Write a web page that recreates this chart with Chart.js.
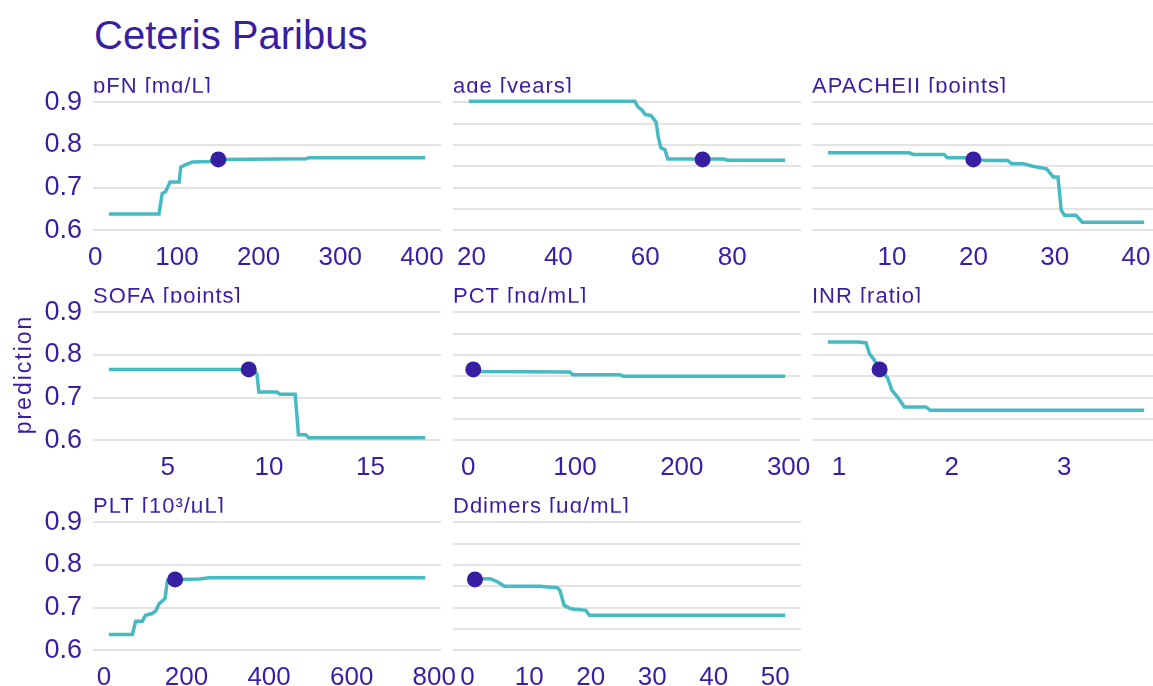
<!DOCTYPE html>
<html>
<head>
<meta charset="utf-8">
<script src="https://cdn.jsdelivr.net/npm/chart.js@4/dist/chart.umd.min.js"></script>
<style>
  html, body { margin: 0; padding: 0; background: #fff; overflow: hidden; width: 1153px; height: 686px; }
  #title { position: absolute; left: 94px; top: 15px; font: 40px 'Liberation Sans', Arial, sans-serif; line-height: 1; color: #371ea3; white-space: nowrap; }
  canvas { position: absolute; }
</style>
</head>
<body>
<div id="title">Ceteris Paribus</div>
<script>
"use strict";

// 1: data
const panelTitles = ['pFN [mg/L]', 'age [years]', 'APACHEII [points]', 'SOFA [points]',
  'PCT [ng/mL]', 'INR [ratio]', 'PLT [10\u00b3/\u03bcL]', 'Ddimers [\u03bcg/mL]'];
const yTitle = 'prediction';

const pfnX = [16.6, 78, 82, 86, 91.6, 102.7, 104.7, 108.8, 119, 140, 150.7, 258, 262, 404];
const pfnY = [0.638, 0.638, 0.686, 0.690, 0.713, 0.713, 0.748, 0.752, 0.760, 0.761, 0.766, 0.7675, 0.770, 0.770];

const ageX = [19.4, 57.6, 58.4, 59.2, 60, 61.3, 62.5, 63.0, 63.6, 64.5, 65.2, 78, 79, 92.2];
const ageY = [0.902, 0.902, 0.888, 0.882, 0.871, 0.869, 0.853, 0.818, 0.793, 0.789, 0.767, 0.767, 0.764, 0.764];

const apacheX = [2.1, 12.1, 12.6, 16.4, 16.8, 19.1, 20, 21.7, 24.2, 24.7, 26.1, 27.3, 29.0, 29.8, 30.4, 30.8, 31.2, 32.6, 33.4, 41.0];
const apacheY = [0.7815, 0.7815, 0.7776, 0.7776, 0.770, 0.770, 0.766, 0.7636, 0.7636, 0.756, 0.756, 0.750, 0.744, 0.725, 0.725, 0.647, 0.635, 0.635, 0.619, 0.619];

const sofaX = [2.1, 9.23, 9.4, 9.5, 10.39, 10.55, 11.29, 11.45, 11.8, 11.96, 17.7];
const sofaY = [0.766, 0.766, 0.756, 0.713, 0.713, 0.7075, 0.7075, 0.613, 0.613, 0.606, 0.606];

const pctX = [0.5, 6, 95, 98, 142, 145, 296.8];
const pctY = [0.766, 0.761, 0.760, 0.7535, 0.7535, 0.750, 0.750];

const inrX = [0.9, 1.17, 1.24, 1.27, 1.31, 1.36, 1.43, 1.47, 1.52, 1.58, 1.77, 1.81, 3.71];
const inrY = [0.830, 0.830, 0.828, 0.8026, 0.789, 0.766, 0.7465, 0.717, 0.701, 0.678, 0.678, 0.670, 0.670];

const pltX = [12, 69, 77, 93, 101, 117, 125.6, 133.7, 148, 154, 172.5, 231, 255, 778];
const pltY = [0.6366, 0.6366, 0.668, 0.668, 0.682, 0.686, 0.692, 0.709, 0.721, 0.764, 0.766, 0.767, 0.770, 0.770];

const ddimersX = [0.2, 3.7, 4.9, 6.0, 11.6, 14.6, 15.0, 15.7, 16.8, 19.2, 19.8, 51.6];
const ddimersY = [0.7675, 0.7675, 0.760, 0.750, 0.750, 0.7465, 0.740, 0.705, 0.697, 0.6935, 0.682, 0.682];

// observed value of each variable and the prediction for it
const observedX = [150.7, 73.2, 20, 9, 4.7, 1.36, 172.5, 1.2];
const observedY = 0.766;

// tick labels
const xTicks = [
  [0, 100, 200, 300, 400],
  [20, 40, 60, 80],
  [10, 20, 30, 40],
  [5, 10, 15],
  [0, 100, 200, 300],
  [1, 2, 3],
  [0, 200, 400, 600, 800],
  [0, 10, 20, 30, 40, 50]
];
const yTicks = [0.6, 0.65, 0.7, 0.75, 0.8, 0.85, 0.9];

// 2: prepare data for chart
const panelX = [pfnX, ageX, apacheX, sofaX, pctX, inrX, pltX, ddimersX];
const panelY = [pfnY, ageY, apacheY, sofaY, pctY, inrY, pltY, ddimersY];

function expand(values) {
  const lo = Math.min(...values), hi = Math.max(...values);
  const pad = (hi - lo) * 0.05;
  return [lo - pad, hi + pad];
}

const [yMin, yMax] = expand([].concat(...panelY));

// 3: layout and chart creation
const FONT = "'Liberation Sans', Arial, sans-serif";
const INK = '#371ea3';
const colLeft = [93, 453, 812];
const rowGrid09 = [101.7, 311.7, 521.7];
const plotWidth = 348;
const pxPerUnit = 427.7;

// facet strip label (clipped at the bottom like the strip) and the shared y title
const stripLabel = {
  id: 'stripLabel',
  afterDraw(chart, args, opts) {
    const { ctx, chartArea } = chart;
    const p09 = chart.scales.y.getPixelForValue(0.9);
    ctx.save();
    ctx.beginPath();
    ctx.rect(chartArea.left, 0, chartArea.right - chartArea.left, p09 - 9.5);
    ctx.clip();
    ctx.fillStyle = INK;
    ctx.font = '22px ' + FONT;
    ctx.letterSpacing = '1px';
    ctx.textBaseline = 'alphabetic';
    ctx.textAlign = 'left';
    ctx.fillText(opts.text, chartArea.left, p09 - 9.5);
    ctx.restore();
    if (opts.yTitle) {
      ctx.save();
      ctx.fillStyle = INK;
      ctx.font = '23px ' + FONT;
      ctx.letterSpacing = '2px';
      ctx.textAlign = 'center';
      ctx.textBaseline = 'middle';
      ctx.translate(25, (chartArea.top + chartArea.bottom) / 2);
      ctx.rotate(-Math.PI / 2);
      ctx.fillText(opts.yTitle, 0, 0);
      ctx.restore();
    }
  }
};

function appendPanel(i) {
  const col = i % 3, row = Math.floor(i / 3);
  const chartTop = rowGrid09[row] - (yMax - 0.9) * pxPerUnit;
  const chartHeight = (yMax - yMin) * pxPerUnit;
  const padTop = 40, axisHeight = 45, padRight = 30;
  const padLeft = col === 0 ? 0 : 20;
  const axisWidth = col === 0 ? 93 : 0;
  const left = colLeft[col] - padLeft - axisWidth;
  const width = colLeft[col] + plotWidth + padRight - left;

  const canvas = document.createElement('canvas');
  canvas.width = Math.round(width);
  canvas.height = Math.round(padTop + chartHeight + axisHeight);
  canvas.style.left = Math.round(left) + 'px';
  canvas.style.top = Math.round(chartTop - padTop) + 'px';
  document.body.appendChild(canvas);

  const [xMin, xMax] = expand(panelX[i]);
  const line = panelX[i].map((x, k) => ({ x: x, y: panelY[i][k] }));

  new Chart(canvas, {
    type: 'line',
    data: {
      datasets: [{
        type: 'scatter',
        data: [{ x: observedX[i], y: observedY }],
        pointRadius: 8,
        pointBackgroundColor: INK,
        pointBorderWidth: 0,
        order: 0
      }, {
        data: line,
        borderColor: '#46bac2',
        borderWidth: 3.5,
        pointRadius: 0,
        tension: 0,
        order: 1
      }]
    },
    options: {
      responsive: false,
      animation: false,
      devicePixelRatio: 1,
      layout: { padding: { top: padTop, left: padLeft, right: padRight, bottom: 0 } },
      plugins: {
        legend: { display: false },
        tooltip: { enabled: false },
        stripLabel: { text: panelTitles[i], yTitle: i === 3 ? yTitle : null }
      },
      scales: {
        x: {
          type: 'linear',
          min: xMin,
          max: xMax,
          afterBuildTicks: s => { s.ticks = xTicks[i].map(v => ({ value: v })); },
          afterFit: s => { s.height = axisHeight; },
          grid: { display: false, drawTicks: false },
          border: { display: false },
          ticks: { color: INK, font: { family: FONT, size: 26 }, padding: 8, autoSkip: false, maxRotation: 0 }
        },
        y: {
          min: yMin,
          max: yMax,
          afterBuildTicks: s => { s.ticks = yTicks.map(v => ({ value: v })); },
          afterFit: s => { s.width = axisWidth; },
          grid: { color: '#e4e4e4', lineWidth: 2, drawTicks: false },
          border: { display: false },
          ticks: {
            display: col === 0,
            color: INK,
            font: { family: FONT, size: 27 },
            padding: 11,
            callback: v => Math.abs(v * 10 - Math.round(v * 10)) < 1e-6 ? v.toFixed(1) : ''
          }
        }
      }
    },
    plugins: [stripLabel]
  });
}

for (let i = 0; i < panelTitles.length; i++) appendPanel(i);
</script>
</body>
</html>
